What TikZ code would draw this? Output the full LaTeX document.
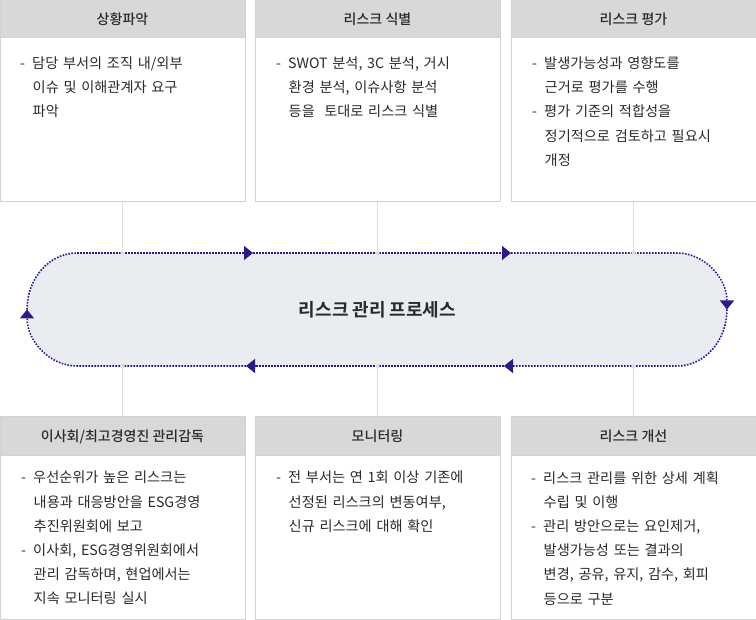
\documentclass[tikz,border=0pt]{standalone}
\usepackage{fontspec}
\setmainfont{Noto Sans CJK KR}[BoldFont={Noto Sans CJK KR Bold}]
\newfontfamily\krmed{Noto Sans CJK KR Medium}
\usetikzlibrary{arrows.meta}

\definecolor{boxline}{HTML}{D2D2D2}
\definecolor{headfill}{HTML}{D8D8D8}
\definecolor{txt}{HTML}{2A2A2A}
\definecolor{pillfill}{HTML}{E9EDF2}
\definecolor{loopline}{HTML}{2E1A86}
\definecolor{link}{HTML}{DDDDDD}

\newcommand{\dash}{\makebox[12pt][l]{-}}
\newcommand{\ind}{\hspace*{12.5pt}}

\begin{document}
\begin{tikzpicture}[x=1pt,y=-1pt]

        \useasboundingbox (0,0) rectangle (756,620);

        % links between the top and bottom boxes
        \begin{scope}[every path/.style={draw=link, line width=1.5pt}]
          \path (122.5,202) -- (122.5,417);
          \path (377.5,202) -- (377.5,417);
          \path (633.5,202) -- (633.5,417);
        \end{scope}

        \begin{scope}[every node/.style={rectangle, draw=boxline, line width=1pt, minimum width=245pt, inner sep=0pt, text=txt, font=\krmed\fontsize{14}{16}\selectfont}]
          \node[fill=headfill, minimum height=38pt]  (h1)  at (122.5,19)    {상황파악};
          \node[fill=headfill, minimum height=38pt]  (h2)  at (377.5,19)    {리스크 식별};
          \node[fill=headfill, minimum height=38pt]  (h3)  at (633.5,19)    {리스크 평가};
          \node[fill=white, minimum height=164pt]    (b1)  at (122.5,120)   {};
          \node[fill=white, minimum height=164pt]    (b2)  at (377.5,120)   {};
          \node[fill=white, minimum height=164pt]    (b3)  at (633.5,120)   {};
          \node[fill=headfill, minimum height=39pt]  (h4)  at (122.5,436.5) {이사회/최고경영진 관리감독};
          \node[fill=headfill, minimum height=39pt]  (h5)  at (377.5,436.5) {모니터링};
          \node[fill=headfill, minimum height=39pt]  (h6)  at (633.5,436.5) {리스크 개선};
          \node[fill=white, minimum height=163pt]    (b4)  at (122.5,537.5) {};
          \node[fill=white, minimum height=163pt]    (b5)  at (377.5,537.5) {};
          \node[fill=white, minimum height=163pt]    (b6)  at (633.5,537.5) {};
        \end{scope}

        \begin{scope}[every node/.style={anchor=north west, inner sep=0pt, align=left, text width=222pt, text=txt, font=\fontsize{14.2}{24.2}\selectfont}]
          \node (t1) at (20,56.5)  {\dash 담당 부서의 조직 내/외부\\\ind 이슈 및 이해관계자 요구\\\ind 파악};
          \node (t2) at (276,56.5) {\dash SWOT 분석, 3C 분석, 거시\\\ind 환경 분석, 이슈사항 분석\\\ind 등을\ \ 토대로 리스크 식별};
          \node (t3) at (532,56.5) {\dash 발생가능성과 영향도를\\\ind 근거로 평가를 수행\\\dash 평가 기준의 적합성을\\\ind 정기적으로 검토하고 필요시\\\ind 개정};
          \node (t4) at (21,471)   {\dash 우선순위가 높은 리스크는\\\ind 내용과 대응방안을 ESG경영\\\ind 추진위원회에 보고\\\dash 이사회, ESG경영위원회에서\\\ind 관리 감독하며, 현업에서는\\\ind 지속 모니터링 실시};
          \node (t5) at (276,471)  {\dash 전 부서는 연 1회 이상 기존에\\\ind 선정된 리스크의 변동여부,\\\ind 신규 리스크에 대해 확인};
          \node (t6) at (531,471)  {\dash 리스크 관리를 위한 상세 계획\\\ind 수립 및 이행\\\dash 관리 방안으로는 요인제거,\\\ind 발생가능성 또는 결과의\\\ind 변경, 공유, 유지, 감수, 회피\\\ind 등으로 구분};
        \end{scope}

        % process loop
        \coordinate (p1) at (77,253);
        \coordinate (pa) at (253,253);
        \coordinate (pb) at (511,253);
        \coordinate (p2) at (677,253);
        \coordinate (pr) at (727,309.5);
        \coordinate (p3) at (677,366);
        \coordinate (pc) at (504,366);
        \coordinate (pd) at (246,366);
        \coordinate (p4) at (77,366);
        \coordinate (pl) at (27,309.5);

        \fill[pillfill] (p1) -- (p2) arc[start angle=-90, end angle=90, x radius=50, y radius=56.5]
          -- (p4) arc[start angle=90, end angle=270, x radius=50, y radius=56.5] -- cycle;

        \begin{scope}[every path/.style={draw=loopline, line width=1.6pt, dash pattern=on 1.6pt off 1.4pt, -{Triangle[length=9pt, width=14pt]}}]
          \path (p1) -- (pa);
          \path (pa) -- (pb);
          \path (pb) -- (p2) arc[start angle=-90, end angle=0, x radius=50, y radius=56.5];
          \path (pr) arc[start angle=0, end angle=90, x radius=50, y radius=56.5] -- (pc);
          \path (pc) -- (pd);
          \path (pd) -- (p4) arc[start angle=90, end angle=180, x radius=50, y radius=56.5];
        \end{scope}
        \path[draw=loopline, line width=1.6pt, dash pattern=on 1.6pt off 1.4pt]
          (pl) arc[start angle=180, end angle=270, x radius=50, y radius=56.5];

        % dots where the links meet the loop
        \begin{scope}[every path/.style={fill=link}]
          \path (b1.south |- p1) circle[radius=2.2pt];
          \path (b2.south |- p1) circle[radius=2.2pt];
          \path (b3.south |- p1) circle[radius=2.2pt];
          \path (b1.south |- p4) circle[radius=2.2pt];
          \path (b2.south |- p4) circle[radius=2.2pt];
          \path (b3.south |- p4) circle[radius=2.2pt];
        \end{scope}

        \node[text=txt, font=\bfseries\fontsize{18}{20}\selectfont] (title) at (377.5,309.5) {리스크 관리 프로세스};

      \end{tikzpicture}
\end{document}
